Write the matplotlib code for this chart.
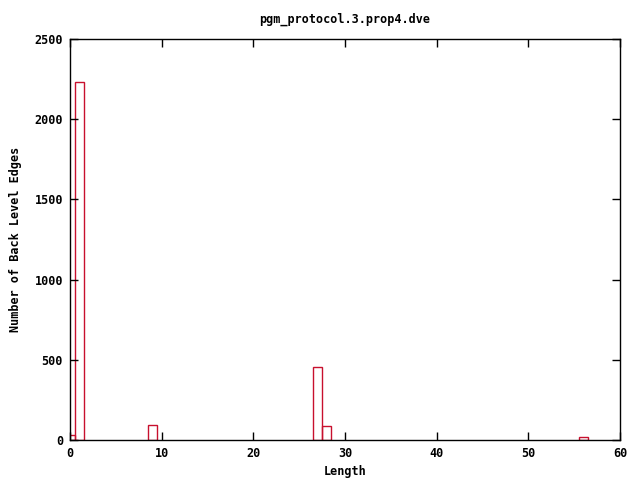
import matplotlib
matplotlib.use("Agg")
from matplotlib import pyplot as plt

lengths = [0, 1, 9, 27, 28, 56]
counts = [30, 2232, 94, 455, 87, 19]

x_ticks = [0, 10, 20, 30, 40, 50, 60]
y_ticks = [0, 500, 1000, 1500, 2000, 2500]


def main():
    plt.rcParams["font.family"] = "DejaVu Sans Mono"
    plt.rcParams["font.weight"] = "bold"
    plt.rcParams["font.size"] = 8.5

    figure = plt.figure(figsize=(6.4, 4.8), dpi=100)
    axis = figure.add_axes([70 / 640, 40 / 480, 550 / 640, 401 / 480])

    axis.bar(
        lengths,
        counts,
        width=1.0,
        fill=False,
        edgecolor="#c8102e",
        linewidth=1.0
    )

    axis.set_xlim(0, 60)
    axis.set_ylim(0, 2500)
    axis.set_xticks(x_ticks)
    axis.set_yticks(y_ticks)
    axis.tick_params(direction="in", top=True, right=True, length=6, width=1, pad=5)
    for spine in axis.spines.values():
        spine.set_linewidth(1.0)

    axis.set_xlabel("Length", fontweight="bold", labelpad=4)
    axis.set_ylabel("Number of Back Level Edges", fontweight="bold", labelpad=9)
    axis.set_title("pgm_protocol.3.prop4.dve", fontweight="bold", fontsize=8.5, pad=12)

    figure.savefig("out.png", dpi=100)


if __name__ == '__main__':
    main()
